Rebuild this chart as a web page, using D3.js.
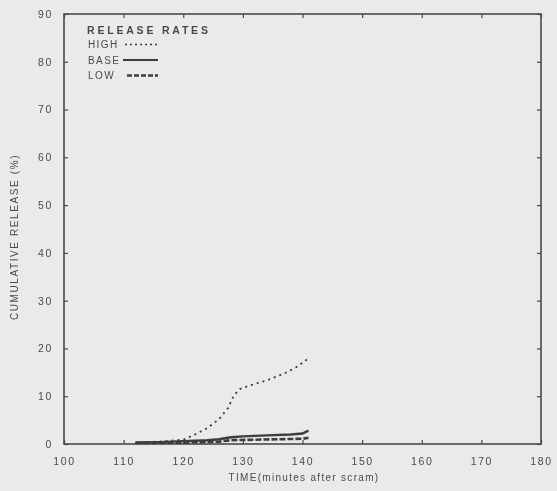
<!DOCTYPE html>
<html>
<head>
<meta charset="utf-8">
<script src="https://cdn.jsdelivr.net/npm/d3@7"></script>
<style>
  body { margin: 0; background: #eaeae8; }
  svg { display: block; font-family: "Liberation Sans", Arial, sans-serif; }
</style>
</head>
<body>
<div id="chart"></div>
<script>
// values
const xTicks = [100, 110, 120, 130, 140, 150, 160, 170, 180]
const yTicks = [0, 10, 20, 30, 40, 50, 60, 70, 80, 90]

const highTime = [112, 116, 120, 122, 124, 126, 127.5, 128.5, 129.5, 131, 134, 137, 139, 141]
const highVal  = [0.3, 0.5, 0.9, 2.0, 3.3, 5.2, 7.5, 10.2, 11.5, 12.2, 13.3, 14.8, 16.1, 17.9]

const baseTime = [112, 116, 120, 124, 126, 128, 130, 134, 138, 140, 141]
const baseVal  = [0.3, 0.4, 0.6, 0.8, 1.0, 1.4, 1.6, 1.8, 2.0, 2.2, 2.8]

const lowTime = [112, 120, 126, 128, 132, 136, 140, 141]
const lowVal  = [0.2, 0.3, 0.5, 0.8, 0.9, 1.0, 1.1, 1.3]

const legendItems = ['HIGH', 'BASE', 'LOW']

const width = 557, height = 491
const margin = {left: 64, right: 16, top: 14, bottom: 47}
const ink = '#4a4a4a'

const svg = d3.select('#chart').append('svg')
    .attr('width', width)
    .attr('height', height)

svg.append('defs').append('filter')
    .attr('id', 'soft')
    .append('feGaussianBlur')
    .attr('stdDeviation', 0.55)

const g = svg.append('g').attr('filter', 'url(#soft)')

const x = d3.scaleLinear()
    .domain([100, 180])
    .range([margin.left, width - margin.right])

const y = d3.scaleLinear()
    .domain([0, 90])
    .range([height - margin.bottom, margin.top])

// frame
g.append('rect')
    .attr('x', x(100))
    .attr('y', y(90))
    .attr('width', x(180) - x(100))
    .attr('height', y(0) - y(90))
    .attr('fill', 'none')
    .attr('stroke', ink)
    .attr('stroke-width', 1.6)

// axes with inward ticks
const styleAxis = (sel) => {
    sel.select('.domain').remove()
    sel.selectAll('line').attr('stroke', ink).attr('stroke-width', 1.2)
    sel.selectAll('text')
        .attr('fill', ink)
        .style('font-size', '10.5px')
        .style('letter-spacing', '1.6px')
}

g.append('g')
    .attr('transform', `translate(0, ${y(0)})`)
    .call(d3.axisBottom(x).tickValues(xTicks).tickSizeInner(-4).tickPadding(14).tickFormat(d3.format('d')))
    .call(styleAxis)

g.append('g')
    .attr('transform', `translate(0, ${y(90)})`)
    .call(d3.axisTop(x).tickValues(xTicks).tickSizeInner(-4).tickFormat(''))
    .call(styleAxis)

g.append('g')
    .attr('transform', `translate(${x(100)}, 0)`)
    .call(d3.axisLeft(y).tickValues(yTicks).tickSizeInner(-4).tickPadding(11).tickFormat(d3.format('d')))
    .call(styleAxis)

g.append('g')
    .attr('transform', `translate(${x(180)}, 0)`)
    .call(d3.axisRight(y).tickValues(yTicks).tickSizeInner(-4).tickFormat(''))
    .call(styleAxis)

// axis titles
g.append('text')
    .text('TIME(minutes after scram)')
    .attr('x', 304)
    .attr('y', 481)
    .attr('text-anchor', 'middle')
    .attr('fill', ink)
    .style('font-size', '10px')
    .style('letter-spacing', '1.3px')

g.append('text')
    .text('CUMULATIVE RELEASE (%)')
    .attr('transform', 'translate(18, 237) rotate(-90)')
    .attr('text-anchor', 'middle')
    .attr('fill', ink)
    .style('font-size', '10px')
    .style('letter-spacing', '1.6px')

// series
const line = d3.line()
    .x(d => x(d[0]))
    .y(d => y(d[1]))

const series = [
    {name: 'LOW', pts: d3.zip(lowTime, lowVal), width: 2.6, dash: '6,2'},
    {name: 'BASE', pts: d3.zip(baseTime, baseVal), width: 2.4, dash: null},
    {name: 'HIGH', pts: d3.zip(highTime, highVal), width: 1.8, dash: '2,4'}
]

g.selectAll('.series')
    .data(series)
    .enter()
    .append('path')
    .attr('class', 'series')
    .attr('d', d => line(d.pts))
    .attr('fill', 'none')
    .attr('stroke', '#3c3c3c')
    .attr('stroke-width', d => d.width)
    .attr('stroke-dasharray', d => d.dash)

// legend
const legend = g.append('g')

legend.append('text')
    .text('RELEASE RATES')
    .attr('x', 87)
    .attr('y', 34)
    .attr('fill', ink)
    .style('font-size', '10.5px')
    .style('font-weight', 'bold')
    .style('letter-spacing', '2.8px')

const legendStyle = {
    HIGH: {x1: 125, dash: '2,3', w: 1.6},
    BASE: {x1: 123, dash: null, w: 2.2},
    LOW:  {x1: 127, dash: '5,2', w: 2.4}
}

legendItems.forEach((name, i) => {
    const ly = 48 + i * 15.5
    legend.append('text')
        .text(name)
        .attr('x', 88)
        .attr('y', ly)
        .attr('fill', ink)
        .style('font-size', '10px')
        .style('letter-spacing', '1.4px')
    legend.append('line')
        .attr('x1', legendStyle[name].x1)
        .attr('x2', 158)
        .attr('y1', ly - 3.5)
        .attr('y2', ly - 3.5)
        .attr('stroke', '#3c3c3c')
        .attr('stroke-width', legendStyle[name].w)
        .attr('stroke-dasharray', legendStyle[name].dash)
})
</script>
</body>
</html>
